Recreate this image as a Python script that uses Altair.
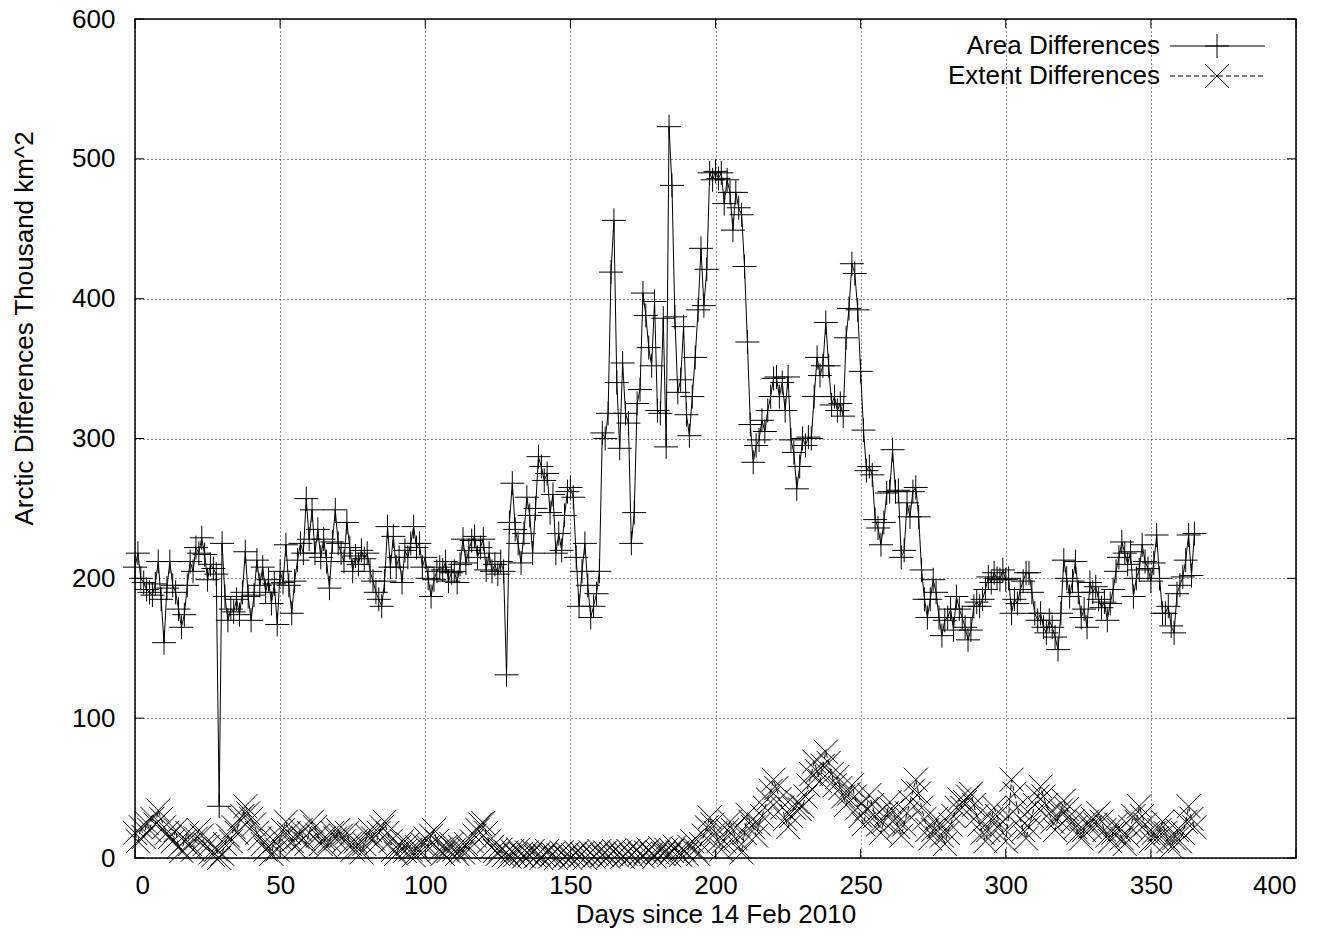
import altair as alt
import pandas as pd

# Daily values, day 0 .. 365 (Thousand km^2)
area_values = [
    208, 218, 200, 197, 192, 190, 188, 196, 212, 185,
    154, 193, 212, 195, 190, 178, 165, 174, 195, 212,
    205, 222, 218, 229, 217, 199, 210, 207, 203, 37,
    225, 187, 170, 178, 176, 185, 174, 190, 219, 187,
    170, 188, 213, 195, 208, 190, 199, 182, 196, 167,
    205, 197, 224, 195, 175, 198, 213, 225, 218, 257,
    228, 249, 218, 235, 215, 228, 212, 193, 226, 249,
    225, 218, 212, 240, 222, 205, 216, 210, 220, 214,
    218, 205, 198, 190, 185, 180, 198, 237, 208, 230,
    208, 215, 197, 220, 215, 225, 237, 222, 225, 208,
    215, 200, 187, 199, 205, 208, 206, 212, 198, 204,
    205, 197, 210, 228, 211, 220, 227, 230, 215, 222,
    228, 206, 218, 205, 210, 203, 212, 205, 131, 240,
    268, 235, 225, 211, 232, 258, 245, 218, 250, 287,
    280, 270, 275, 247, 260, 218, 232, 220, 245, 262,
    265, 258, 215, 180, 205, 225, 195, 172, 180, 189,
    205, 304, 300, 318, 419, 456, 340, 293, 354, 318,
    311, 225, 247, 325, 335, 404, 388, 365, 352, 398,
    320, 318, 386, 294, 523, 481, 387, 333, 342, 380,
    317, 302, 330, 358, 392, 436, 395, 421, 490, 485,
    491, 486, 490, 468, 485, 476, 449, 476, 465, 460,
    423, 369, 310, 283, 295, 299, 313, 305, 320, 330,
    343, 344, 330, 340, 320, 344, 299, 290, 264, 280,
    300, 295, 301, 300, 330, 358, 345, 352, 383, 352,
    324, 330, 320, 325, 316, 372, 393, 425, 418, 392,
    348, 306, 277, 280, 274, 242, 236, 224, 240, 261,
    262, 292, 262, 263, 215, 220, 254, 244, 262, 265,
    244, 206, 185, 172, 185, 199, 190, 172, 159, 170,
    172, 178, 163, 187, 178, 172, 165, 156, 163, 180,
    183, 180, 185, 192, 201, 197, 204, 200, 199, 206,
    199, 200, 175, 185, 182, 192, 198, 204, 204, 190,
    175, 170, 175, 165, 161, 170, 165, 158, 149, 175,
    213, 200, 187, 198, 212, 190, 172, 178, 165, 197,
    190, 194, 185, 179, 183, 170, 182, 192, 205, 215,
    226, 218, 210, 219, 187, 200, 206, 224, 212, 207,
    198, 211, 231, 200, 175, 175, 180, 166, 161, 189,
    195, 201, 213, 231, 202, 232,
]

extent_values = [
    18, 12, 22, 15, 25, 20, 28, 24, 34, 28,
    22, 18, 15, 12, 20, 8, 5, 12, 18, 10,
    6, 14, 20, 16, 10, 8, 4, 2, 6, 0,
    3, 10, 16, 12, 22, 18, 28, 30, 37, 32,
    28, 24, 18, 14, 10, 6, 8, 3, 12, 6,
    14, 20, 26, 18, 12, 8, 15, 20, 14, 10,
    18, 26, 22, 16, 10, 14, 8, 12, 18, 14,
    20, 16, 12, 18, 10, 6, 12, 8, 4, 10,
    16, 20, 14, 10, 18, 22, 26, 18, 12, 6,
    3, 8, 12, 5, 10, 6, 2, 8, 4, 10,
    14, 8, 16, 20, 12, 6, 3, 8, 5, 10,
    6, 3, 8, 4, 10, 6, 12, 16, 20, 24,
    25, 18, 12, 8, 5, 3, 6, 2, 4, 1,
    5, 2, 6, 3, 1, 4, 2, 5, 1, 3,
    0, 2, 5, 1, 3, 0, 2, 4, 1, 3,
    0, 2, 4, 1, 3, 0, 2, 4, 1, 3,
    5, 2, 4, 1, 3, 5, 2, 4, 1, 3,
    5, 2, 4, 6, 3, 1, 4, 6, 3, 1,
    4, 7, 3, 6, 2, 5, 8, 4, 2, 6,
    3, 8, 12, 6, 3, 10, 16, 22, 29, 24,
    18, 12, 6, 12, 20, 26, 20, 14, 8, 4,
    18, 31, 26, 22, 16, 24, 30, 36, 42, 48,
    56, 50, 42, 36, 28, 22, 30, 36, 40, 35,
    37, 44, 52, 60, 69, 62, 55, 66, 76, 68,
    60, 52, 58, 50, 44, 38, 46, 52, 44, 36,
    30, 24, 35, 45, 38, 30, 24, 18, 26, 32,
    40, 34, 28, 22, 16, 24, 32, 40, 48, 56,
    46, 36, 28, 20, 14, 20, 28, 22, 16, 10,
    18, 24, 30, 36, 42, 36, 40, 44, 46, 38,
    30, 24, 18, 12, 20, 28, 36, 30, 24, 18,
    12, 30, 56, 46, 36, 28, 20, 14, 22, 30,
    38, 44, 51, 44, 38, 32, 26, 20, 28, 34,
    41, 35, 30, 26, 22, 18, 14, 20, 26, 22,
    28, 24, 32, 26, 20, 16, 12, 18, 24, 20,
    14, 10, 16, 22, 30, 26, 37, 30, 24, 18,
    12, 18, 14, 20, 26, 18, 12, 8, 14, 20,
    12, 18, 26, 37, 28, 22,
]

x_ticks = [0, 50, 100, 150, 200, 250, 300, 350, 400]
y_ticks = [0, 100, 200, 300, 400, 500, 600]
legend_labels = ["Area Differences", "Extent Differences"]

W, H = 1161, 839
FONT = "Liberation Sans"
FS = 26
PLUS = "M-1,0L1,0M0,-1L0,1"
XMARK = "M-1,-1L1,1M-1,1L1,-1"

days = list(range(len(area_values)))
df_area = pd.DataFrame({"day": days, "value": area_values})
df_ext = pd.DataFrame({"day": list(range(len(extent_values))), "value": extent_values})

xscale = alt.Scale(domain=[0, 400], nice=False, zero=False)
yscale = alt.Scale(domain=[0, 600], nice=False)

x_axis = alt.Axis(
    values=x_ticks, title="Days since 14 Feb 2010", grid=True, ticks=False,
    labelPadding=14, titleY=56, titleBaseline="middle", domain=False,
)
y_axis = alt.Axis(
    values=y_ticks, title="Arctic Differences Thousand km^2", grid=True, ticks=False,
    labelPadding=20, titleX=-111, titleY=309, titleBaseline="middle",
    titleAlign="center", domain=False,
)

base_area = alt.Chart(df_area).encode(
    x=alt.X("day:Q", scale=xscale, axis=x_axis),
    y=alt.Y("value:Q", scale=yscale, axis=y_axis),
)
area_line = base_area.mark_line(color="black", strokeWidth=1)
area_pts = base_area.mark_point(shape=PLUS, size=576, filled=False, color="black",
                                strokeWidth=1, opacity=1)

base_ext = alt.Chart(df_ext).encode(
    x=alt.X("day:Q", scale=xscale),
    y=alt.Y("value:Q", scale=yscale),
)
ext_line = base_ext.mark_line(color="black", strokeWidth=1, strokeDash=[5, 3])
ext_pts = base_ext.mark_point(shape=XMARK, size=576, filled=False, color="black",
                              strokeWidth=1, opacity=1)

# inward ticks (gnuplot style, mirrored on all sides)
df_xt = pd.DataFrame({"t": x_ticks})
df_yt = pd.DataFrame({"t": y_ticks})
xt_bottom = alt.Chart(df_xt).mark_rule(color="black", strokeWidth=1).encode(
    x=alt.X("t:Q", scale=xscale), y=alt.value(H), y2=alt.value(H - 9))
xt_top = alt.Chart(df_xt).mark_rule(color="black", strokeWidth=1).encode(
    x=alt.X("t:Q", scale=xscale), y=alt.value(0), y2=alt.value(9))
yt_left = alt.Chart(df_yt).mark_rule(color="black", strokeWidth=1).encode(
    y=alt.Y("t:Q", scale=yscale), x=alt.value(0), x2=alt.value(9))
yt_right = alt.Chart(df_yt).mark_rule(color="black", strokeWidth=1).encode(
    y=alt.Y("t:Q", scale=yscale), x=alt.value(W), x2=alt.value(W - 9))

# key (top right)
leg_one = pd.DataFrame({"k": [0]})
key_txt1 = alt.Chart(pd.DataFrame({"label": [legend_labels[0]]})).mark_text(
    align="right", baseline="middle", font=FONT, fontSize=FS, color="black").encode(
    text="label:N", x=alt.value(1025), y=alt.value(27))
key_txt2 = alt.Chart(pd.DataFrame({"label": [legend_labels[1]]})).mark_text(
    align="right", baseline="middle", font=FONT, fontSize=FS, color="black").encode(
    text="label:N", x=alt.value(1025), y=alt.value(57))
key_l1 = alt.Chart(leg_one).mark_rule(color="black", strokeWidth=1).encode(
    x=alt.value(1035), x2=alt.value(1130), y=alt.value(27))
key_l2 = alt.Chart(leg_one).mark_rule(color="black", strokeWidth=1, strokeDash=[5, 3]).encode(
    x=alt.value(1035), x2=alt.value(1130), y=alt.value(57))
key_p1 = alt.Chart(leg_one).mark_point(shape=PLUS, size=576, filled=False, color="black",
                                      strokeWidth=1, opacity=1).encode(
    x=alt.value(1082), y=alt.value(27))
key_p2 = alt.Chart(leg_one).mark_point(shape=XMARK, size=576, filled=False, color="black",
                                      strokeWidth=1, opacity=1).encode(
    x=alt.value(1082), y=alt.value(57))

chart = alt.layer(
    ext_line, ext_pts, area_line, area_pts,
    xt_bottom, xt_top, yt_left, yt_right,
    key_txt1, key_txt2, key_l1, key_l2, key_p1, key_p2,
).properties(
    width=W, height=H,
    background="white",
    autosize=alt.AutoSizeParams(type="none"),
    padding={"left": 127, "top": 11, "right": 36, "bottom": 78},
).configure_view(
    stroke="black", strokeWidth=1.5,
).configure_axis(
    labelFont=FONT, titleFont=FONT, labelFontSize=FS, titleFontSize=FS,
    labelColor="black", titleColor="black", titleFontWeight="normal",
    gridColor="black", gridDash=[1, 3], gridOpacity=0.9, gridWidth=1,
)

chart.save("out.html", embed_options={"renderer": "svg", "actions": False})
